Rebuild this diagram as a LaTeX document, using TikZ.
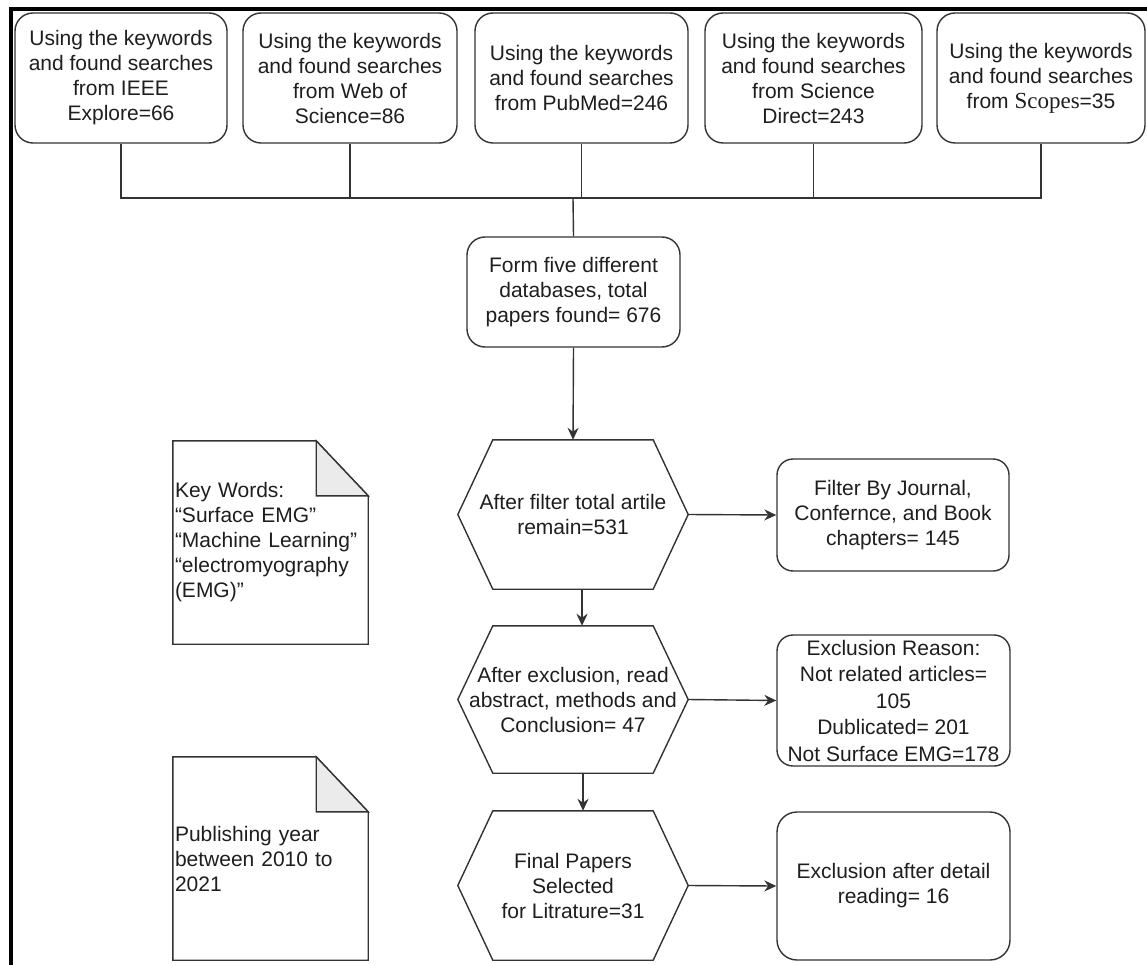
\documentclass[tikz,border=0pt]{standalone}
\usepackage{fontspec}
\setmainfont{Liberation Sans}
\newfontfamily\serifscopes{Liberation Serif}
\usetikzlibrary{calc,arrows.meta}
\definecolor{ln}{HTML}{333333}
\definecolor{txt}{HTML}{1E1E1E}
\definecolor{foldgray}{HTML}{EBEBEB}
\newcommand\hexpath[1]{\draw[shp] (#1.west) -- ($(#1.north west)+(35,0)$) -- ($(#1.north east)+(-35,0)$) -- (#1.east) -- ($(#1.south east)+(-35,0)$) -- ($(#1.south west)+(35,0)$) -- cycle;}
\newcommand\notepath[1]{\draw[shp] (#1.north west) -- ($(#1.north east)+(-52,0)$) -- ($(#1.north east)+(0,55)$) -- (#1.south east) -- (#1.south west) -- cycle;
  \filldraw[shp, fill=foldgray] ($(#1.north east)+(-52,0)$) -- ($(#1.north east)+(-52,55)$) -- ($(#1.north east)+(0,55)$) -- cycle;}
\begin{document}
\begin{tikzpicture}[x=1pt,y=-1pt,
  every node/.style={font=\fontsize{21}{25}\selectfont, text=txt},
  shp/.style={draw=ln, line width=1.4pt, line join=miter},
  rbox/.style={draw=ln, line width=1.4pt, rounded corners=18pt, align=center, inner sep=0pt},
  hexnode/.style={draw=none, align=center, inner sep=0pt, minimum width=230pt},
  notenode/.style={draw=none, align=left, inner sep=0pt, minimum width=195pt, minimum height=203pt, text width=191pt},
  conn/.style={draw=ln, line width=1.4pt},
  arr/.style={conn, -{Stealth[length=12pt,width=11pt]}}
]
\useasboundingbox (0,0) rectangle (1147,965);
% frame
\fill[black] (9,7) rectangle (1147,11);
\fill[black] (9,7) rectangle (13,965);

% top boxes
\node[rbox, minimum width=212pt, minimum height=130pt] (b1) at (121,78) {Using the keywords\\and found searches\\from IEEE\\Explore=66};
\node[rbox, minimum width=214pt, minimum height=130pt] (b2) at (350,78) {Using the keywords\\and found searches\\from Web of\\Science=86};
\node[rbox, minimum width=213pt, minimum height=130pt] (b3) at (581.5,78) {Using the keywords\\and found searches\\from PubMed=246};
\node[rbox, minimum width=217pt, minimum height=130pt] (b4) at (813.5,78) {Using the keywords\\and found searches\\from Science\\Direct=243};
\node[rbox, minimum width=208pt, minimum height=130pt] (b5) at (1041,78) {Using the keywords\\and found searches\\from {\serifscopes\fontsize{23}{25}\selectfont Scopes}=35};

\coordinate (bus) at (573,198);
\node[rbox, minimum width=213pt, minimum height=110pt] (form) at (573.5,292) {Form five different\\databases, total\\papers found= 676};

\draw[conn] (b1.south) |- (bus);
\draw[conn] (b5.south) |- (bus);
\draw[conn] (b2.south) -- (b2.south |- bus);
\draw[conn] (b3.south) -- (b3.south |- bus);
\draw[conn] (b4.south) -- (b4.south |- bus);
\draw[conn] (bus) -- (form.north);

% hexagons
\node[hexnode, minimum height=149pt] (h1) at (573,514.5) {After filter total artile\\remain=531};
\node[hexnode, minimum height=147pt] (h2) at (573,699.5) {After exclusion, read\\abstract, methods and\\Conclusion= 47};
\node[hexnode, minimum height=149pt] (h3) at (573,885.5) {Final Papers\\Selected\\for Litrature=31};
\hexpath{h1}
\hexpath{h2}
\hexpath{h3}

% right boxes
\node[rbox, minimum width=232pt, minimum height=112pt, rounded corners=16pt] (filt) at (893,515) {Filter By Journal,\\Confernce, and Book\\chapters= 145};
\node[rbox, minimum width=233pt, minimum height=131pt, rounded corners=16pt, font=\fontsize{21}{26.5}\selectfont] (excl) at (893.5,700.5) {Exclusion Reason:\\Not related articles=\\105\\Dublicated= 201\\Not Surface EMG=178};
\node[rbox, minimum width=233pt, minimum height=148pt, rounded corners=20pt] (det) at (893.5,886) {Exclusion after detail\\reading= 16};

% notes
\node[notenode] (kw) at (270.5,542.5) {Key Words:\\“Surface EMG”\\“Machine Learning”\\“electromyography\\(EMG)”};
\node[notenode] (pub) at (270.5,858.5) {Publishing year\\between 2010 to\\2021};
\notepath{kw}
\notepath{pub}

% arrows
\draw[arr] (form.south) -- (h1.north);
\draw[arr] ($(h1.south)+(9,0)$) -- ($(h2.north)+(9,0)$);
\draw[arr] ($(h2.south)+(10,0)$) -- ($(h3.north)+(10,0)$);
\draw[arr] (h1.east) -- (filt.west);
\draw[arr] (h2.east) -- (excl.west);
\draw[arr] (h3.east) -- (det.west);
\end{tikzpicture}
\end{document}
